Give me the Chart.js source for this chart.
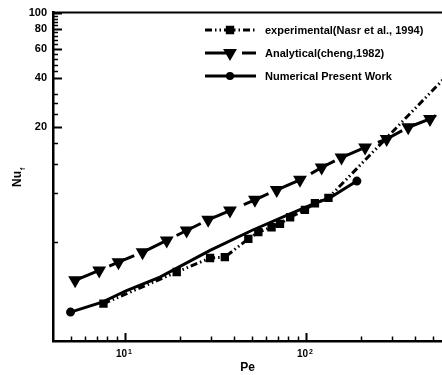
<!DOCTYPE html>
<html>
<head>
<meta charset="utf-8">
<script src="https://cdn.jsdelivr.net/npm/chart.js@4.4.0/dist/chart.umd.min.js"></script>
<style>
  html, body { margin: 0; padding: 0; background: #fff; overflow: hidden; }
  #wrap { width: 442px; height: 375px; position: relative; }
</style>
</head>
<body>
<div id="wrap"><canvas id="nuchart"></canvas></div>
<script>
// Nusselt number vs Peclet number
const peExperimental = [7.6, 19.3, 29.5, 35.6, 48, 54.5, 64.5, 71.8, 81.7, 98.6, 112, 133, 710];
const nuExperimental = [1.69, 2.63, 3.2, 3.24, 4.19, 4.6, 4.93, 5.17, 5.67, 6.29, 6.9, 7.44, 50];

const peAnalytical = [5.3, 7.2, 9.2, 12.5, 17, 21.9, 28.8, 38, 52.2, 68.9, 92.6, 122, 157, 212, 279, 367, 484, 640];
const nuAnalytical = [2.34, 2.69, 3.02, 3.47, 4.1, 4.71, 5.47, 6.23, 7.24, 8.32, 9.58, 11.4, 13.1, 15.1, 17, 20, 22.5, 27.1];

const peNumerical = [5, 7.55, 10.2, 15.6, 22.3, 29.5, 50.1, 81.7, 110, 136, 191];
const nuNumerical = [1.5, 1.73, 2.03, 2.45, 3.02, 3.56, 4.71, 5.95, 6.84, 7.47, 9.42];

const xMajorTicks = [10, 100];
const xMinorTicks = [5, 6, 7, 8, 9, 20, 30, 40, 50, 60, 70, 80, 90, 200, 300, 400, 500];
const xTickExponents = { 10: "1", 100: "2" };
const yMajorTicks = [20, 40, 60, 80, 100];
const yMinorTicks = [4, 8, 12, 16, 24, 28, 32, 44, 48, 52, 56, 64, 68, 72, 76, 84, 88, 92, 96];

const FONT = "'Liberation Sans', Arial, sans-serif";
const ctx = document.getElementById("nuchart").getContext("2d");
Chart.defaults.font.family = FONT;
Chart.defaults.font.weight = "bold";
Chart.defaults.color = "#000";

function toPoints(xs, ys) {
  return xs.map((x, i) => ({ x: x, y: ys[i] }));
}

function tickList(major, minor) {
  return major.concat(minor).sort((a, b) => a - b).map((v) => ({ value: v }));
}

// inward ticks, top frame, power-of-ten labels and the Nu_f title
const axisDecor = {
  id: "axisDecor",
  afterDraw(chart) {
    const c = chart.ctx;
    const area = chart.chartArea;
    const xs = chart.scales.x;
    const ys = chart.scales.y;
    c.save();
    c.strokeStyle = "#000";
    c.fillStyle = "#000";
    xs.ticks.forEach((t) => {
      const major = xMajorTicks.includes(t.value);
      const px = Math.round(xs.getPixelForValue(t.value)) + 0.5;
      c.lineWidth = major ? 2 : 1.5;
      c.beginPath();
      c.moveTo(px, area.bottom);
      c.lineTo(px, area.bottom - (major ? 8 : 4.5));
      c.stroke();
      if (major) {
        c.textAlign = "left";
        c.textBaseline = "alphabetic";
        c.font = "bold 10px " + FONT;
        c.fillText("10", px - 9.5, 357);
        const w = c.measureText("10").width;
        c.font = "bold 7px " + FONT;
        c.fillText(xTickExponents[t.value], px - 9.5 + w + 1, 354);
      }
    });
    ys.ticks.forEach((t) => {
      const major = yMajorTicks.includes(t.value);
      const py = Math.round(ys.getPixelForValue(t.value)) + 0.5;
      c.lineWidth = major ? 2 : 1.5;
      c.beginPath();
      c.moveTo(area.left, py);
      c.lineTo(area.left + (major ? 9 : 5), py);
      c.stroke();
    });
    c.lineWidth = 2;
    c.beginPath();
    c.moveTo(area.left, area.top);
    c.lineTo(area.right, area.top);
    c.stroke();

    c.translate(21, 187);
    c.rotate(-Math.PI / 2);
    c.font = "bold 12px " + FONT;
    c.textAlign = "left";
    c.textBaseline = "alphabetic";
    c.fillText("Nu", 0, 0);
    const wn = c.measureText("Nu").width;
    c.font = "bold 7px " + FONT;
    c.fillText("f", wn + 1, 3.5);
    c.restore();
  },
};

// legend in the top right, line sample with marker in the middle
const sampleLegend = {
  id: "sampleLegend",
  afterDraw(chart) {
    const c = chart.ctx;
    const rows = [30, 53, 76];
    c.save();
    chart.data.datasets.forEach((ds, i) => {
      const y = rows[i];
      c.strokeStyle = "#000";
      c.fillStyle = "#000";
      c.lineWidth = ds.borderWidth;
      c.setLineDash(ds.borderDash || []);
      c.beginPath();
      c.moveTo(205, y);
      c.lineTo(256, y);
      c.stroke();
      c.setLineDash([]);
      Chart.helpers.drawPoint(c, {
        pointStyle: ds.pointStyle,
        rotation: ds.pointRotation || 0,
        radius: ds.legendRadius,
        borderWidth: 1,
      }, 230, y);
      c.font = "bold 11px " + FONT;
      c.textAlign = "left";
      c.textBaseline = "middle";
      c.fillText(ds.label, 265, y + 0.5);
    });
    c.restore();
  },
};

const nuchart = new Chart(ctx, {
  type: "line",
  data: {
    datasets: [
      {
        label: "experimental(Nasr et al., 1994)",
        data: toPoints(peExperimental, nuExperimental),
        borderColor: "#000",
        backgroundColor: "#000",
        borderWidth: 3,
        borderDash: [7, 3, 1.5, 3, 1.5, 3],
        pointStyle: "rect",
        pointRadius: 3.8,
        legendRadius: 3.8,
      },
      {
        label: "Analytical(cheng,1982)",
        data: toPoints(peAnalytical, nuAnalytical),
        borderColor: "#000",
        backgroundColor: "#000",
        borderWidth: 3,
        borderDash: [27, 10],
        pointStyle: "triangle",
        pointRotation: 180,
        pointRadius: 5,
        legendRadius: 5,
      },
      {
        label: "Numerical Present Work",
        data: toPoints(peNumerical, nuNumerical),
        borderColor: "#000",
        backgroundColor: "#000",
        borderWidth: 3,
        pointStyle: "circle",
        pointRadius: (context) =>
          context.dataIndex === 0 || context.dataIndex === peNumerical.length - 1 ? 3 : 0,
        legendRadius: 2.5,
      },
    ],
  },
  options: {
    responsive: true,
    maintainAspectRatio: false,
    animation: false,
    layout: { autoPadding: false, padding: { top: 12, right: 0, left: 0, bottom: 0 } },
    plugins: {
      legend: { display: false },
      tooltip: { enabled: false },
    },
    elements: { line: { tension: 0 } },
    scales: {
      x: {
        type: "logarithmic",
        min: 4,
        max: 564,
        afterBuildTicks: (scale) => {
          scale.ticks = tickList(xMajorTicks, xMinorTicks);
        },
        afterFit: (scale) => {
          scale.height = 34;
        },
        grid: { display: false, drawTicks: false },
        border: { display: true, color: "#000", width: 2.5 },
        ticks: { autoSkip: false, maxRotation: 0, callback: () => "" },
        title: {
          display: true,
          text: "Pe",
          font: { size: 12, weight: "bold" },
          padding: 0,
        },
      },
      y: {
        type: "logarithmic",
        min: 1,
        max: 100,
        afterBuildTicks: (scale) => {
          scale.ticks = tickList(yMajorTicks, yMinorTicks);
        },
        afterFit: (scale) => {
          scale.width = 53;
        },
        grid: { display: false, drawTicks: false },
        border: { display: true, color: "#000", width: 2.5 },
        ticks: {
          autoSkip: false,
          padding: 6,
          font: { size: 11, weight: "bold" },
          callback: (v) => (yMajorTicks.includes(v) ? String(v) : ""),
        },
      },
    },
  },
  plugins: [axisDecor, sampleLegend],
});
</script>
</body>
</html>
